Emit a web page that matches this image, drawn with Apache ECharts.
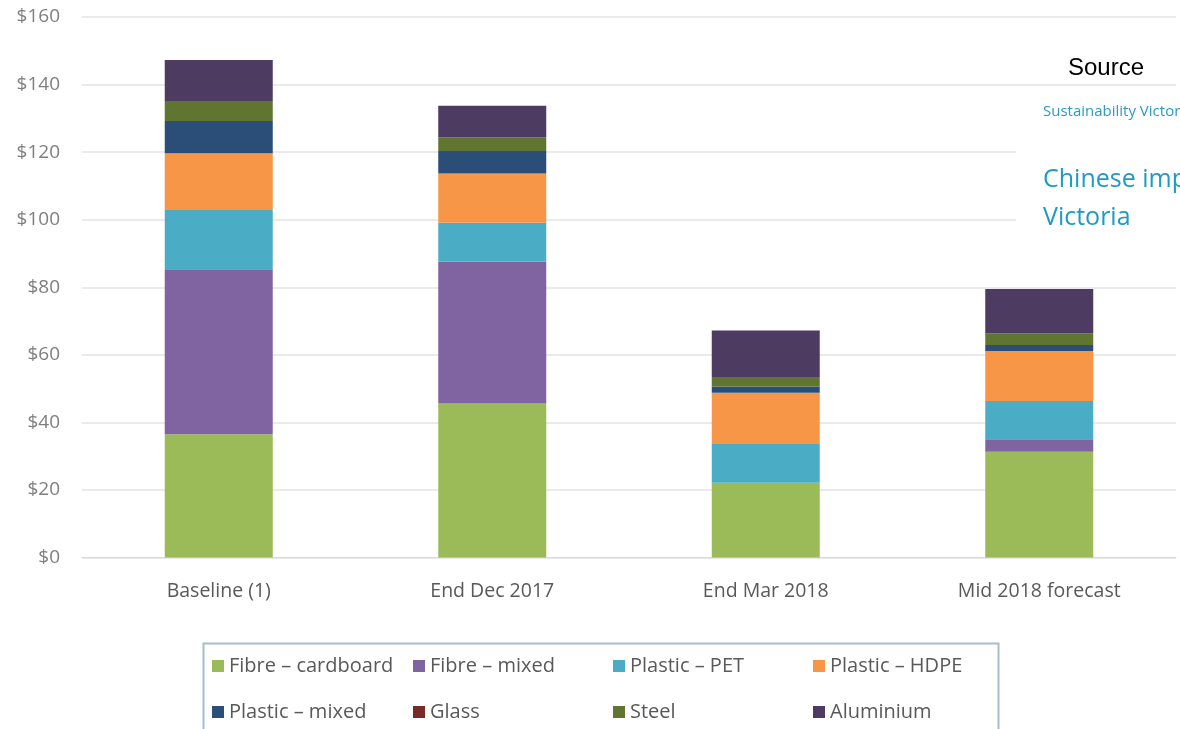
<!DOCTYPE html>
<html>
<head>
<meta charset="utf-8">
<script src="https://cdn.jsdelivr.net/npm/echarts@6/dist/echarts.min.js"></script>
<style>
html,body{margin:0;padding:0;background:#fff;}
#chart{width:1180px;height:729px;}
</style>
</head>
<body>
<div id="chart"></div>
<script>
var categories = ['Baseline (1)', 'End Dec 2017', 'End Mar 2018', 'Mid 2018 forecast'];
var fibreCardboard = [36.5, 45.6, 22.1, 31.3];
var fibreMixed     = [48.8, 42.0, 0.0, 3.7];
var plasticPET     = [17.6, 11.5, 11.5, 11.3];
var plasticHDPE    = [16.8, 14.6, 15.2, 14.8];
var plasticMixed   = [9.5, 6.6, 1.8, 1.8];
var glass          = [0, 0, 0, 0];
var steel          = [5.9, 4.0, 2.8, 3.5];
var aluminium      = [12.2, 9.4, 13.8, 13.1];
var yTicks = [0, 20, 40, 60, 80, 100, 120, 140, 160];

var seriesNames = ['Fibre – cardboard', 'Fibre – mixed', 'Plastic – PET', 'Plastic – HDPE',
                   'Plastic – mixed', 'Glass', 'Steel', 'Aluminium'];
var seriesData = [fibreCardboard, fibreMixed, plasticPET, plasticHDPE, plasticMixed, glass, steel, aluminium];
var colors = ['#9bbb59', '#8064a2', '#4bacc6', '#f79646', '#2a4e78', '#772c2a', '#5f7530', '#4d3b62'];

var series = seriesNames.map(function (n, i) {
  return {
    name: n, type: 'bar', stack: 'total', data: seriesData[i],
    barWidth: 108, itemStyle: { color: colors[i] }
  };
});

var legendFont = { fontFamily: 'Open Sans', fontSize: 20, color: '#595959' };
var colX = [207, 408, 608, 808];
var legends = [0, 1, 2, 3].map(function (c) {
  return {
    left: colX[c], top: 651, orient: 'vertical', itemGap: 26,
    itemWidth: 12, itemHeight: 12, icon: 'rect', itemStyle: { borderWidth: 0 },
    textStyle: legendFont, selectedMode: false,
    data: [seriesNames[c], seriesNames[c + 4]]
  };
});

var chart = echarts.init(document.getElementById('chart'), null, { renderer: 'canvas' });
chart.setOption({
  animation: false,
  backgroundColor: '#ffffff',
  grid: { left: 82, right: 4, top: 17, bottom: 171.5, containLabel: false },
  legend: legends,
  xAxis: {
    type: 'category', data: categories,
    axisLine: { show: true, lineStyle: { color: '#d9d9d9' } },
    axisTick: { show: false },
    axisLabel: { fontFamily: 'Open Sans', fontSize: 19.5, color: '#595959', margin: 24 }
  },
  yAxis: {
    type: 'value', min: 0, max: 160, interval: 20,
    axisLine: { show: false }, axisTick: { show: false },
    splitLine: { lineStyle: { color: '#e3e3e3', width: 1.5 } },
    axisLabel: {
      fontFamily: 'Open Sans', fontSize: 19, color: '#7f7f7f', margin: 22,
      formatter: function (v) { return yTicks.indexOf(v) >= 0 ? '$' + v : ''; }
    }
  },
  series: series,
  graphic: [
    { type: 'rect', shape: { x: 1016, y: 94, width: 170, height: 148 }, style: { fill: '#ffffff' }, z: 10 },
    { type: 'text', x: 1068, y: 68, z: 11, style: { text: 'Source', font: '24px "Liberation Sans"', fill: '#000000', verticalAlign: 'middle' } },
    { type: 'text', x: 1043, y: 112, z: 11, style: { text: 'Sustainability Victoria', font: '15px "Open Sans"', fill: '#2c9ac3', verticalAlign: 'middle' } },
    { type: 'text', x: 1043, y: 180, z: 11, style: { text: 'Chinese import restrictions', font: '25px "Open Sans"', fill: '#1e9ac5', verticalAlign: 'middle' } },
    { type: 'text', x: 1043, y: 218, z: 11, style: { text: 'Victoria', font: '25px "Open Sans"', fill: '#1e9ac5', verticalAlign: 'middle' } },
    { type: 'rect', shape: { x: 203.5, y: 643.5, width: 795, height: 100 }, style: { fill: 'none', stroke: '#a9bccf', lineWidth: 2 }, z: 10 }
  ]
});
</script>
</body>
</html>
